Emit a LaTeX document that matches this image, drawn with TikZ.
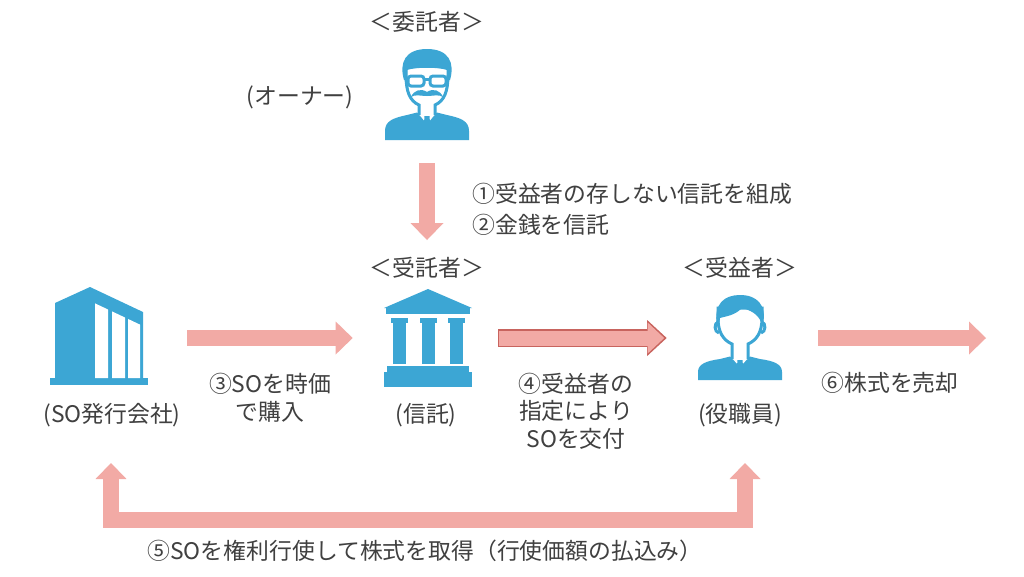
\documentclass[tikz,border=0pt]{standalone}
\usepackage{fontspec}
\setmainfont{Noto Sans CJK JP}
\usetikzlibrary{arrows.meta}
\usetikzlibrary{calc}
\usetikzlibrary{positioning}
\definecolor{ikonblau}{RGB}{60,166,212}
\definecolor{pfeilrosa}{RGB}{242,170,165}
\definecolor{pfeilrot}{RGB}{200,100,94}
\definecolor{textgrau}{RGB}{64,64,64}

\begin{document}
\begin{tikzpicture}[x=0.02cm, y=-0.02cm, % 1 Einheit = 1 Pixel, y nach unten
    every node/.style={font=\fontsize{13}{16}\selectfont, text=textgrau, inner sep=0pt},
    iconbox/.style={minimum width=2cm, minimum height=2cm},
    pfeil/.style={draw=pfeilrosa, line width=3.3mm, -{Triangle[length=3.4mm, width=6.6mm, line width=0pt]}},
    pfeilrand/.style={draw=pfeilrot, line width=3.6mm, -{Triangle[length=3.9mm, width=7.2mm, line width=0pt]}}]

    % Hintergrund
    \fill[white] (0,0) rectangle (1024,576);
    \useasboundingbox (0,0) rectangle (1024,576);

    % Icons (Platzhalter)
    \node[iconbox] (auftraggeber) at (427,95) {};
    \node[iconbox] (firma) at (99,338) {};
    \node[iconbox] (treuhand) at (428,338) {};
    \node[iconbox] (mitarbeiter) at (740,338) {};
    \coordinate (treuhandziel) at (427,240);
    \coordinate (verkauf) at (986,338);
    \coordinate (u1) at (111,463);
    \coordinate (u2) at (745,463);

    % Beschriftungen
    \node (kopfauftrag) at (427,22) {＜委託者＞};
    \node (eigner) at (300,97) {(オーナー)};
    \node[anchor=west, align=left, font=\fontsize{13}{17.6}\selectfont] (schritt12) at (472,209) {①受益者の存しない信託を組成\\②金銭を信託};
    \node (kopftreuhand) at (427,268) {＜受託者＞};
    \node (kopfbeg) at (740,268) {＜受益者＞};
    \node (textfirma) at (112,415) {(SO発行会社)};
    \node (texttreuhand) at (426,415) {(信託)};
    \node (textbeg) at (740,415) {(役職員)};
    \node[align=center, font=\fontsize{13}{15.9}\selectfont] (schritt3) at (270,398) {③SOを時価\\で購入};
    \node[align=center, font=\fontsize{13}{15.6}\selectfont] (schritt4) at (576,411) {④受益者の\\指定により\\SOを交付};
    \node (schritt6) at (890,383) {⑥株式を売却};
    \node (schritt5) at (425,551) {⑤SOを権利行使して株式を取得（行使価額の払込み）};

    % Pfeile
    \draw[pfeil, shorten <=3.6mm] (auftraggeber) -- (treuhandziel);
    \draw[pfeil, shorten <=7.6mm, shorten >=5mm] (firma) -- (treuhand);
    \draw[pfeilrand, shorten <=4mm, shorten >=4.6mm] (treuhand) -- (mitarbeiter);
    \draw[pfeil, line width=3mm, shorten <=4.2mm, shorten >=5.1mm,
        -{Triangle[length=3.3mm, width=6.2mm, line width=0pt]}] (treuhand) -- (mitarbeiter);
    \draw[pfeil, shorten <=5.6mm] (mitarbeiter) -- (verkauf);
    \draw[pfeil, line width=3.2mm, line join=miter,
        {Triangle[length=3.2mm, width=6.2mm, line width=0pt]}-{Triangle[length=3.2mm, width=6.2mm, line width=0pt]}]
        (u1) -- ++(0,57) -| (u2);

    % Auftraggeber (Mann mit Brille)
    \begin{scope}[shift={(auftraggeber.center)}]
        \fill[ikonblau] (-42,45) -- (-42,36) .. controls (-42,26) and (-34,23) .. (-20,20) -- (-8,17)
            -- (8,17) -- (20,20) .. controls (34,23) and (42,26) .. (42,36) -- (42,45) -- cycle;
        \fill[white] (-10,17) -- (0,29) -- (10,17) -- cycle;
        \fill[ikonblau] (-2.5,21) -- (2.5,21) -- (3.5,35) -- (0,39) -- (-3.5,35) -- cycle;
        \filldraw[fill=white, draw=ikonblau, line width=0.6mm] (-8,20) -- (-8,10)
            .. controls (-17,6) and (-21,-3) .. (-21,-20) -- (-21,-30) -- (21,-30) -- (21,-20)
            .. controls (21,-3) and (17,6) .. (8,10) -- (8,20);
        \fill[ikonblau] (-23,-15) .. controls (-28,-32) and (-22,-46) .. (0,-46) .. controls (22,-46) and (28,-32) .. (23,-15)
            -- (20,-15) -- (20,-25) .. controls (12,-28) and (-12,-28) .. (-20,-25) -- (-20,-15) -- cycle;
        \draw[ikonblau, line width=0.6mm, rounded corners=0.6mm] (-19,-19) rectangle (-3,-9);
        \draw[ikonblau, line width=0.6mm, rounded corners=0.6mm] (3,-19) rectangle (19,-9);
        \draw[ikonblau, line width=0.6mm] (-3,-16) -- (3,-16) (-19,-17) -- (-22,-17) (19,-17) -- (22,-17);
        \fill[ikonblau] (0,-3) .. controls (-6,-7) and (-13,-5) .. (-16,2) .. controls (-12,-1) and (-6,1) .. (0,1)
            .. controls (6,1) and (12,-1) .. (16,2) .. controls (13,-5) and (6,-7) .. (0,-3) -- cycle;
    \end{scope}

    % SO-Firma (Gebaeude)
    \begin{scope}[shift={(firma.center)}]
        \fill[ikonblau] (-44,40) -- (-44,-35) -- (-9,-51) -- (44,-26) -- (44,40) -- cycle;
        \fill[ikonblau] (-49,40) rectangle (49,47);
        \foreach \a/\b in {-4/9, 13/26, 29/41} {
            \fill[white] (\a,{-37+0.4717*(\a+9)}) -- (\b,{-37+0.4717*(\b+9)}) -- (\b,40) -- (\a,40) -- cycle;
        }
    \end{scope}

    % Treuhand (Saeulen)
    \begin{scope}[shift={(treuhand.center)}]
        \fill[ikonblau] (-44,-30) -- (0,-49) -- (44,-30) -- cycle;
        \fill[ikonblau] (-42,-31) rectangle (42,-24);
        \foreach \x in {-28.5,0,28.5} {
            \fill[ikonblau] (\x-8.5,-20) rectangle (\x+8.5,-15);
            \fill[ikonblau] (\x-6.5,-16) rectangle (\x+6.5,26);
        }
        \fill[ikonblau] (-41,28) rectangle (41,34);
        \fill[ikonblau] (-44,34) rectangle (44,49);
    \end{scope}

    % Beguenstigter (Mitarbeiter)
    \begin{scope}[shift={(mitarbeiter.center)}]
        \fill[ikonblau] (-42,42) -- (-42,34) .. controls (-42,26) and (-34,23) .. (-20,21) -- (-8,18)
            -- (8,18) -- (20,21) .. controls (34,23) and (42,26) .. (42,34) -- (42,42) -- cycle;
        \fill[white] (-10,18) -- (0,29) -- (10,18) -- cycle;
        \fill[ikonblau] (-2.5,22) -- (2.5,22) -- (3.5,34) -- (0,38) -- (-3.5,34) -- cycle;
        \filldraw[fill=white, draw=ikonblau, line width=0.6mm] (-8,21) -- (-8,6)
            .. controls (-17,2) and (-22,-6) .. (-22,-20) -- (-22,-30) -- (22,-30) -- (22,-20)
            .. controls (22,-6) and (17,2) .. (8,6) -- (8,21);
        \draw[ikonblau, line width=0.6mm] (-22,-16) .. controls (-26,-15) and (-26,-6) .. (-21,-5);
        \draw[ikonblau, line width=0.6mm] (22,-16) .. controls (26,-15) and (26,-6) .. (21,-5);
        \fill[ikonblau] (-23,-12) .. controls (-27,-35) and (-15,-43) .. (0,-43) .. controls (17,-43) and (27,-33) .. (23,-14)
            -- (21,-16) .. controls (18,-24) and (10,-28) .. (2,-30) .. controls (-6,-22) and (-14,-22) .. (-20,-20)
            -- (-21,-12) -- cycle;
    \end{scope}

\end{tikzpicture}
\end{document}
